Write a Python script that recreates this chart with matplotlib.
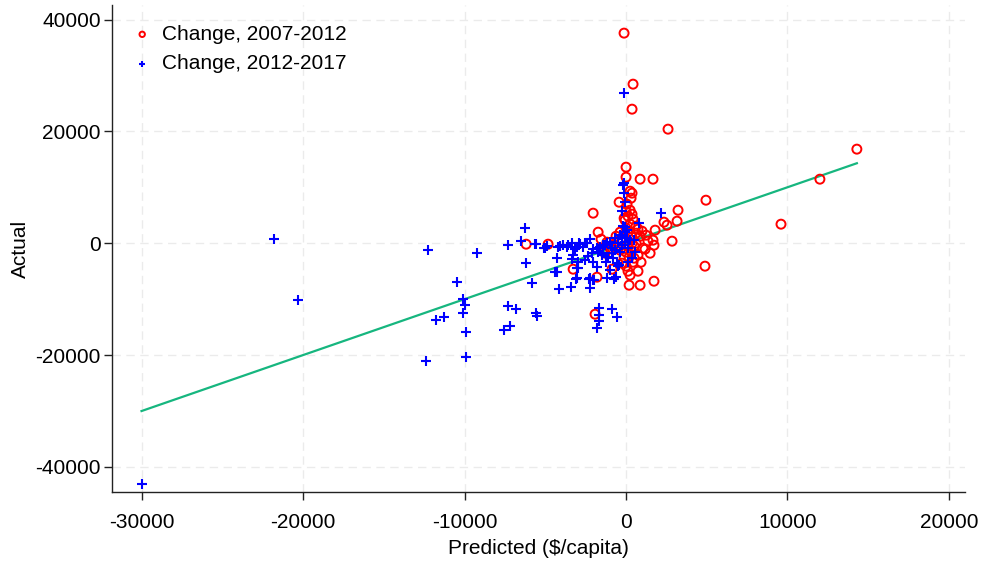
import numpy as np
import matplotlib
matplotlib.use("Agg")
import matplotlib.pyplot as plt

plt.rcParams['font.family'] = ['Liberation Sans', 'DejaVu Sans']
plt.rcParams['axes.unicode_minus'] = False

# change 2007-2012 (predicted, actual)
red_x = [-124, 433, 371, 2600, 14300, 12010, 0, 0, 870, 1670, 250, 370, -430, 4950,
         3220, -2040, 9600, 3160, 2350, 2540, 1800, 2850, 1730, -1730, -1550, -6190,
         -4830, -3280, -1800, -1920, -870, 190, 120, 190, 870, 1730, 4890, 740, 1670,
         1180, 740, 430, 500, 620, 370, 120, 0, 250, -60, 120, 370, 0, -120, 250, 620,
         870, 990, 740, -250, -500, -740, -370, 0, 310, -120, 500, -250, 0, 250, 930,
         1050, 1360, 1240, -990, -1300, -1180, 620, 430, -370, -620, 120, 370, 1490,
         60, 310]
red_y = [37570, 28445, 23970, 20395, 16820, 11450, 13600, 11810, 11450, 11450, 9300,
         8950, 7330, 7690, 5900, 5370, 3400, 3940, 3760, 3220, 2330, 360, -360, 1970,
         720, -180, -180, -4650, -6080, -12700, -4650, -2500, -5010, -7510, -7510,
         -6800, -4110, -5010, 540, -1070, -2150, -3400, -540, 0, 1070, 1970, 2680,
         3400, 4110, 4830, 5190, 5720, 4470, 5900, 1790, 1250, 2150, 2500, 720, 360,
         -360, -1250, -1610, -1430, -2500, -2680, -3580, -4110, -5720, -3400, -890,
         360, 1430, -890, -1790, 180, 3040, 4290, 1970, 1250, -540, 0, -1790, 6980,
         8050]

# change 2012-2017 (predicted, actual)
blue_x = [-30020, -21790, -20300, -12260, -12380, -11760, -11270, -10460, -10090,
          -9970, -10090, -9900, -9900, -9220, -7300, -6810, -5570, -5510, -7550, -7180,
          -6250, -7300, -6500, -5570, -6190, -5820, -5080, -4270, -4270, -4150, -3400,
          -3100, -2290, -1980, -2230, -3030, -1670, -870, -560, -1670, -1670, -1800,
          -1180, -740, -620, -500, -4210, -3900, -3650, -3340, -3160, -2910, -2660,
          -2410, -3340, -2230, -2040, -1730, -1420, -800, -560, -1180, -4090, -5630,
          -5010, -4890, -3590, -3030, -2850, -2540, -3280, -2970, -2540, -2350, -2100,
          -2040, -1610, -1420, -4400, -3030, -2230, -2040, -2970, -120, -120, -190,
          -120, -60, -250, 800, 2170, -60, -190, -60, -250, -680, -990, -1300, -1610,
          -1800, -500, -250, -60, -870, -680, -370, 120, 60, -1490, -1110, -430, 560,
          370, -1800, -990, 60, 250, -370, -870, -1240, 120, 500]
blue_y = [-43115, 716, -10200, -1250, -21110, -13780, -13240, -6980, -10020, -11090,
          -12520, -15920, -20400, -1790, -11270, -11810, -12520, -13060, -15560,
          -14850, 2680, -360, 360, -180, -3580, -7160, -890, -2680, -5190, -8230,
          -7870, -6440, -6440, -6620, -8050, -4470, -11630, -11810, -13240, -12880,
          -13950, -15210, -6260, -6440, -6080, -4110, -720, -360, -720, 0, -1070, 0,
          -720, 0, -2860, 720, -1070, -1610, -1790, -2680, -3580, 0, -540, -180, -890,
          -540, -360, -720, -180, 0, -2150, -3400, -3040, -2330, -1790, -3400, -890,
          -360, -5190, -6260, -6260, -6620, -4470, 26840, 10730, 10380, 8950, 7330,
          5720, 3580, 5370, 2860, 3040, 1970, 1070, 890, 180, -360, -720, -890, 0,
          -360, 180, -890, -1250, -1610, -890, 890, -2150, -2500, -3940, -1610, -2680,
          -4290, -4830, 2330, 540, 1430, -1790, -3400, -3400, 540]

# fitted line
slope = 1.0
intercept = 0.0

all_x = np.array(red_x + blue_x)
fit_x = np.array([all_x.min(), all_x.max()])
fit_y = intercept + slope * fit_x

fig = plt.figure(figsize=(9.82, 5.67), dpi=100)
ax = fig.add_axes([112 / 982, 75 / 567, 853 / 982, 487 / 567])

ax.plot(fit_x, fit_y, color='#16b67f', linewidth=1.6, zorder=2)
ax.scatter(red_x, red_y, s=42, facecolors='none', edgecolors='#ff0000',
           linewidths=1.4, label='Change, 2007-2012', zorder=3)
ax.scatter(blue_x, blue_y, s=44, marker='+', color='#0000ff',
           linewidths=1.5, label='Change, 2012-2017', zorder=4)

ax.set_xlim(-31850, 21000)
ax.set_ylim(-44500, 42600)
ax.set_xticks([-30000, -20000, -10000, 0, 10000, 20000])
ax.set_yticks([-40000, -20000, 0, 20000, 40000])
ax.grid(True, color='#ebebeb', linestyle=(0, (6, 4)), linewidth=1.0)
ax.set_axisbelow(True)

for s in ['top', 'right']:
    ax.spines[s].set_visible(False)
for s in ['left', 'bottom']:
    ax.spines[s].set_linewidth(1.0)
    ax.spines[s].set_color('#222222')
ax.tick_params(axis='both', labelsize=15, length=6, width=1.0, color='#222222')
ax.tick_params(axis='x', pad=9)
ax.tick_params(axis='y', pad=2)

ax.set_xlabel('Predicted (\\$/capita)', fontsize=15, labelpad=5)
ax.set_ylabel('Actual', fontsize=15, labelpad=4)

leg = ax.legend(loc='upper left', frameon=False, fontsize=15, markerscale=0.6,
                handlelength=1.0, handletextpad=0.45, borderaxespad=0.55,
                borderpad=0.4, labelspacing=0.5)

fig.savefig('out.png', dpi=100)
